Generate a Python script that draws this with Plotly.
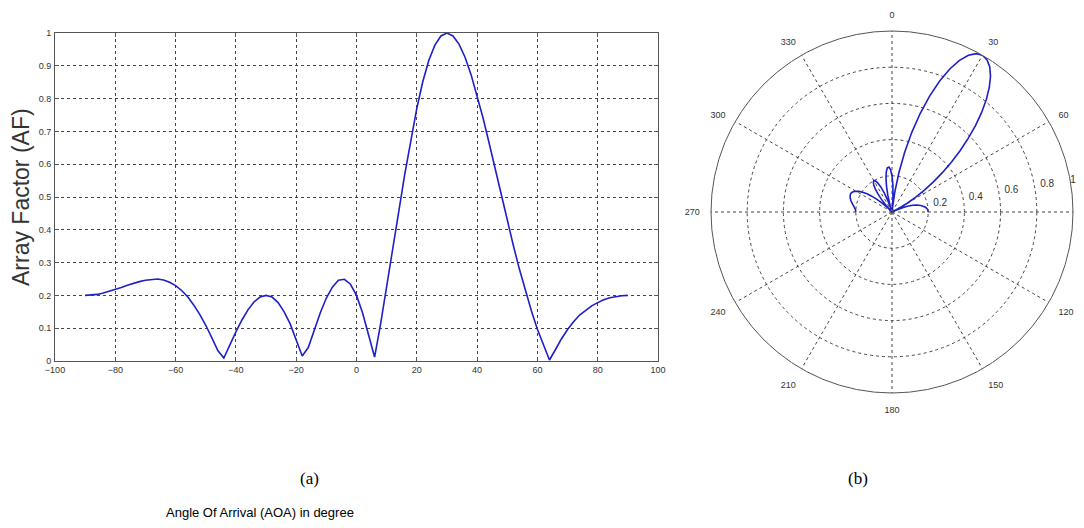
import plotly.graph_objects as go

# Angle of arrival (degrees) and normalized array factor
aoa_deg = [-90, -88, -86, -84, -82, -80, -78, -76, -74, -72, -70, -68, -66, -64, -62, -60,
           -58, -56, -54, -52, -50, -48, -46, -44, -42, -40, -38, -36, -34, -32, -30, -28,
           -26, -24, -22, -20, -18, -16, -14, -12, -10, -8, -6, -4, -2, 0, 2, 4, 6, 8, 10,
           12, 14, 16, 18, 20, 22, 24, 26, 28, 30, 32, 34, 36, 38, 40, 42, 44, 46, 48, 50,
           52, 54, 56, 58, 60, 62, 64, 66, 68, 70, 72, 74, 76, 78, 80, 82, 84, 86, 88, 90]
array_factor = [0.200, 0.201, 0.203, 0.207, 0.212, 0.218, 0.224, 0.231, 0.237, 0.242,
                0.246, 0.249, 0.250, 0.247, 0.240, 0.230, 0.215, 0.196, 0.171, 0.142,
                0.109, 0.071, 0.032, 0.009, 0.050, 0.089, 0.125, 0.156, 0.180, 0.195,
                0.200, 0.195, 0.178, 0.150, 0.113, 0.067, 0.015, 0.041, 0.096, 0.147,
                0.192, 0.225, 0.246, 0.249, 0.234, 0.200, 0.147, 0.075, 0.012, 0.113,
                0.223, 0.339, 0.455, 0.569, 0.675, 0.770, 0.852, 0.917, 0.963, 0.991,
                1.000, 0.991, 0.966, 0.926, 0.873, 0.810, 0.740, 0.664, 0.585, 0.506,
                0.428, 0.353, 0.281, 0.214, 0.153, 0.097, 0.047, 0.003, 0.035, 0.068,
                0.096, 0.120, 0.140, 0.155, 0.168, 0.178, 0.187, 0.193, 0.197, 0.199, 0.200]

x_ticks = [-100, -80, -60, -40, -20, 0, 20, 40, 60, 80, 100]
y_ticks = [0, 0.1, 0.2, 0.3, 0.4, 0.5, 0.6, 0.7, 0.8, 0.9, 1]
y_tick_labels = ["0", "0.1", "0.2", "0.3", "0.4", "0.5", "0.6", "0.7", "0.8", "0.9", "1"]
polar_angles = [0, 30, 60, 90, 120, 150, 180, 210, 240, 270, 300, 330]
polar_angle_labels = ["0", "30", "60", "90", "120", "150", "180", "210", "240", "270", "300", "330"]
polar_r_ticks = [0.2, 0.4, 0.6, 0.8, 1]
polar_r_labels = ["0.2", "0.4", "0.6", "0.8", "1"]

W, H = 1084, 528
OX, OY = 8, 8  # page body margin offset of the browser


def px(x):
    return (x - OX) / W


def py(y):
    return 1 - (y - OY) / H


line_color = "#1f1fc8"
grid_color = "#444444"
tick_font = dict(family="Liberation Sans Narrow, Arial", size=9, color="#333333")

fig = go.Figure()
fig.add_trace(go.Scatter(x=aoa_deg, y=array_factor, mode="lines",
                         line=dict(color=line_color, width=1.6),
                         xaxis="x", yaxis="y", showlegend=False, hoverinfo="skip"))
fig.add_trace(go.Scatterpolar(theta=aoa_deg, r=array_factor, mode="lines",
                              line=dict(color=line_color, width=1.6),
                              subplot="polar", showlegend=False, hoverinfo="skip"))
# radial tick labels, placed just outside each circle (MATLAB style)
fig.add_trace(go.Scatterpolar(theta=[80] * len(polar_r_ticks),
                              r=[v + 0.07 if v < 1 else 1.0 for v in polar_r_ticks],
                              text=polar_r_labels, mode="text", cliponaxis=False,
                              textposition=["middle center"] * (len(polar_r_ticks) - 1)
                              + ["middle right"],
                              textfont=dict(family="Liberation Sans Narrow, Arial", size=10,
                                            color="#333333"),
                              subplot="polar", showlegend=False, hoverinfo="skip"))

fig.update_layout(
    width=W, height=H,
    margin=dict(l=0, r=0, t=0, b=0),
    paper_bgcolor="white", plot_bgcolor="white",
    xaxis=dict(domain=[px(55), px(658)], range=[-100, 100], tickvals=x_ticks,
               ticks="inside", ticklen=4, tickcolor="#555", tickfont=tick_font,
               showgrid=True, gridcolor=grid_color, griddash="dot", gridwidth=1,
               showline=True, linecolor="#555", linewidth=1, mirror="ticks",
               zeroline=False, anchor="y", automargin=False),
    yaxis=dict(domain=[py(361), py(33)], range=[0, 1], tickvals=y_ticks,
               ticktext=y_tick_labels,
               ticks="inside", ticklen=4, tickcolor="#555", tickfont=tick_font,
               showgrid=True, gridcolor=grid_color, griddash="dot", gridwidth=1,
               showline=True, linecolor="#555", linewidth=1, mirror="ticks",
               zeroline=False, anchor="x", ticklabelstandoff=1, automargin=False),
    polar=dict(
        domain=dict(x=[px(711), px(1073)], y=[py(393), py(31)]),
        bgcolor="white",
        angularaxis=dict(direction="clockwise", rotation=90, tickmode="array",
                         tickvals=polar_angles, ticktext=polar_angle_labels,
                         showline=True, linecolor="#555", linewidth=1,
                         showgrid=True, gridcolor=grid_color, griddash="dot", gridwidth=1,
                         ticks="outside", ticklen=9, tickcolor="rgba(0,0,0,0)",
                         tickfont=tick_font),
        radialaxis=dict(range=[0, 1], tickvals=polar_r_ticks, showticklabels=False,
                        angle=10, showline=False, showgrid=True,
                        gridcolor=grid_color, griddash="dot", gridwidth=1, ticks=""),
    ),
    annotations=[
        dict(text="Array Factor (AF)", x=px(21), y=py(197), xref="paper", yref="paper",
             textangle=-90, showarrow=False, xanchor="center", yanchor="middle",
             font=dict(family="Liberation Sans, Arial", size=23, color="#333333")),
        dict(text="(a)", x=px(309), y=py(478), xref="paper", yref="paper",
             showarrow=False, xanchor="center", yanchor="middle",
             font=dict(family="Liberation Serif, Times New Roman", size=17, color="black")),
        dict(text="(b)", x=px(858), y=py(478), xref="paper", yref="paper",
             showarrow=False, xanchor="center", yanchor="middle",
             font=dict(family="Liberation Serif, Times New Roman", size=17, color="black")),
        dict(text="Angle Of Arrival (AOA) in degree", x=px(260), y=py(512),
             xref="paper", yref="paper", showarrow=False, xanchor="center", yanchor="middle",
             font=dict(family="Liberation Sans Narrow, Arial", size=13, color="black")),
    ],
)

fig.write_html("out.html")
